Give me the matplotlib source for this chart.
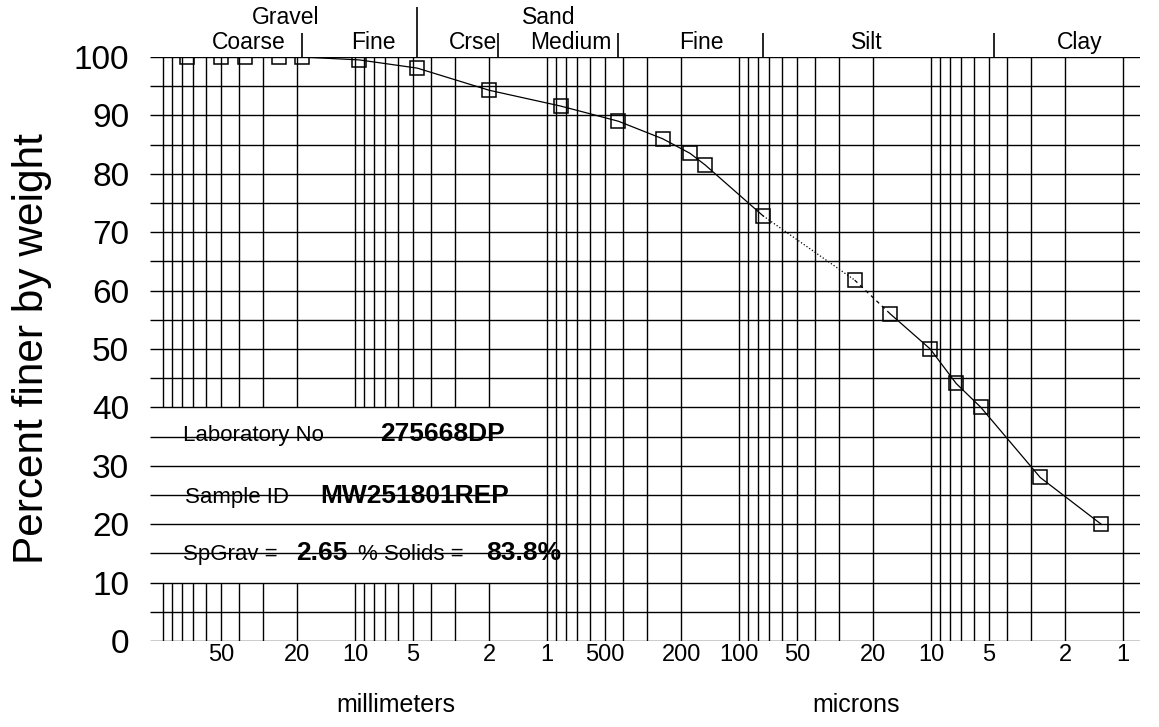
import matplotlib
matplotlib.use('Agg')
import matplotlib.pyplot as plt
from matplotlib.ticker import NullLocator
import numpy as np

plt.rcParams['font.family'] = ['Liberation Sans', 'DejaVu Sans']

# sieve + hydrometer results: grain size (mm) vs percent finer
size_mm = [75, 50, 37.5, 25, 19, 9.5, 4.75, 2.0, 0.85, 0.425, 0.25, 0.18, 0.15, 0.075,
           0.025, 0.0163, 0.0101, 0.0074, 0.0055, 0.0027, 0.0013]
pct_finer = [100, 100, 100, 100, 100, 99.5, 98.1, 94.3, 91.6, 89.0, 86.0, 83.5, 81.5, 72.8,
             61.8, 56.0, 50.0, 44.1, 40.0, 28.0, 20.0]

tick_mm = [50, 20, 10, 5, 2, 1, 0.5, 0.2, 0.1, 0.05, 0.02, 0.01, 0.005, 0.002, 0.001]
tick_txt = ['50', '20', '10', '5', '2', '1', '500', '200', '100', '50', '20', '10', '5', '2', '1']

# soil class boundaries along the top
bounds_mm = [19, 4.75, 1.8, 0.425, 0.075, 0.0047]
bound_tall = [False, True, False, False, False, False]
classes = ['Coarse', 'Fine', 'Crse', 'Medium', 'Fine', 'Silt', 'Clay']
class_mm = [36, 8.07, 2.43, 0.75, 0.158, 0.0216, 0.00168]
groups = ['Gravel', 'Sand']
group_mm = [22.9, 0.977]

lab_no = '275668DP'
sample_id = 'MW251801REP'
sp_grav = '2.65'
solids = '83.8%'

fig = plt.figure(figsize=(11.59, 7.27), dpi=100)
ax = fig.add_axes([150/1159, 86/727, 990/1159, 584/727])
ax.set_xscale('log')
ax.set_xlim(117, 0.000816)
ax.set_ylim(0, 100)
for s in ax.spines.values():
    s.set_visible(False)

# log grid, blanked where the info box sits
for n in range(-3, 3):
    for k in range(1, 10):
        v = k * 10.0**n
        if v > 100.5 or v < 0.00099:
            continue
        if v > 1.0001:
            ax.vlines(v, 0, 10, color='k', lw=1.0)
            ax.vlines(v, 40, 100, color='k', lw=1.0)
        else:
            ax.vlines(v, 0, 100, color='k', lw=1.0)
ax.hlines(np.arange(0, 101, 5), 117, 0.000816, color='k', lw=1.0)

# header
for b, tall in zip(bounds_mm, bound_tall):
    ax.vlines(b, 100, 108.6 if tall else 104.1, color='k', lw=1.2, clip_on=False)
for name, x in zip(classes, class_mm):
    ax.text(x, 102.4, name, ha='center', va='center', fontsize=16.5, clip_on=False)
for name, x in zip(groups, group_mm):
    ax.text(x, 106.8, name, ha='center', va='center', fontsize=16.5, clip_on=False)

# curve: sieve part solid, hand-off to hydrometer dotted/dashed
ax.plot(size_mm[:14], pct_finer[:14], color='k', lw=0.9)
ax.plot(size_mm[13:15], pct_finer[13:15], color='k', lw=0.9, ls=':')
ax.plot(size_mm[14:16], pct_finer[14:16], color='k', lw=0.9, ls=(0, (3, 3)))
ax.plot(size_mm[15:], pct_finer[15:], color='k', lw=0.9)
ax.plot(size_mm, pct_finer, ls='none', marker='s', ms=9.5, mfc='none', mec='k', mew=1.1)

# axes text
ax.set_yticks(range(0, 101, 10))
ax.tick_params(axis='y', length=0, pad=15, labelsize=24)
ax.set_xticks(tick_mm, tick_txt)
ax.xaxis.set_minor_locator(NullLocator())
ax.tick_params(axis='x', length=0, pad=2, labelsize=17)
ax.set_ylabel('Percent finer by weight', fontsize=30.5)
ax.yaxis.set_label_coords(-0.099, 0.5)

fig.text(396/1159, 22/727, 'millimeters', ha='center', va='center', fontsize=18)
fig.text(856/1159, 22/727, 'microns', ha='center', va='center', fontsize=18)

# info box
tr = ax.get_yaxis_transform()
ax.text(0.0333, 34.2, 'Laboratory No', transform=tr, fontsize=16, va='baseline')
ax.text(0.232, 34.2, lab_no, transform=tr, fontsize=19, fontweight='bold', va='baseline')
ax.text(0.035, 23.6, 'Sample ID', transform=tr, fontsize=16, va='baseline')
ax.text(0.172, 23.6, sample_id, transform=tr, fontsize=19, fontweight='bold', va='baseline')
ax.text(0.0333, 13.8, 'SpGrav =', transform=tr, fontsize=16, va='baseline')
ax.text(0.148, 13.8, sp_grav, transform=tr, fontsize=19, fontweight='bold', va='baseline')
ax.text(0.210, 13.8, '% Solids =', transform=tr, fontsize=16, va='baseline')
ax.text(0.340, 13.8, solids, transform=tr, fontsize=19, fontweight='bold', va='baseline')

fig.savefig('out.png', dpi=100)
